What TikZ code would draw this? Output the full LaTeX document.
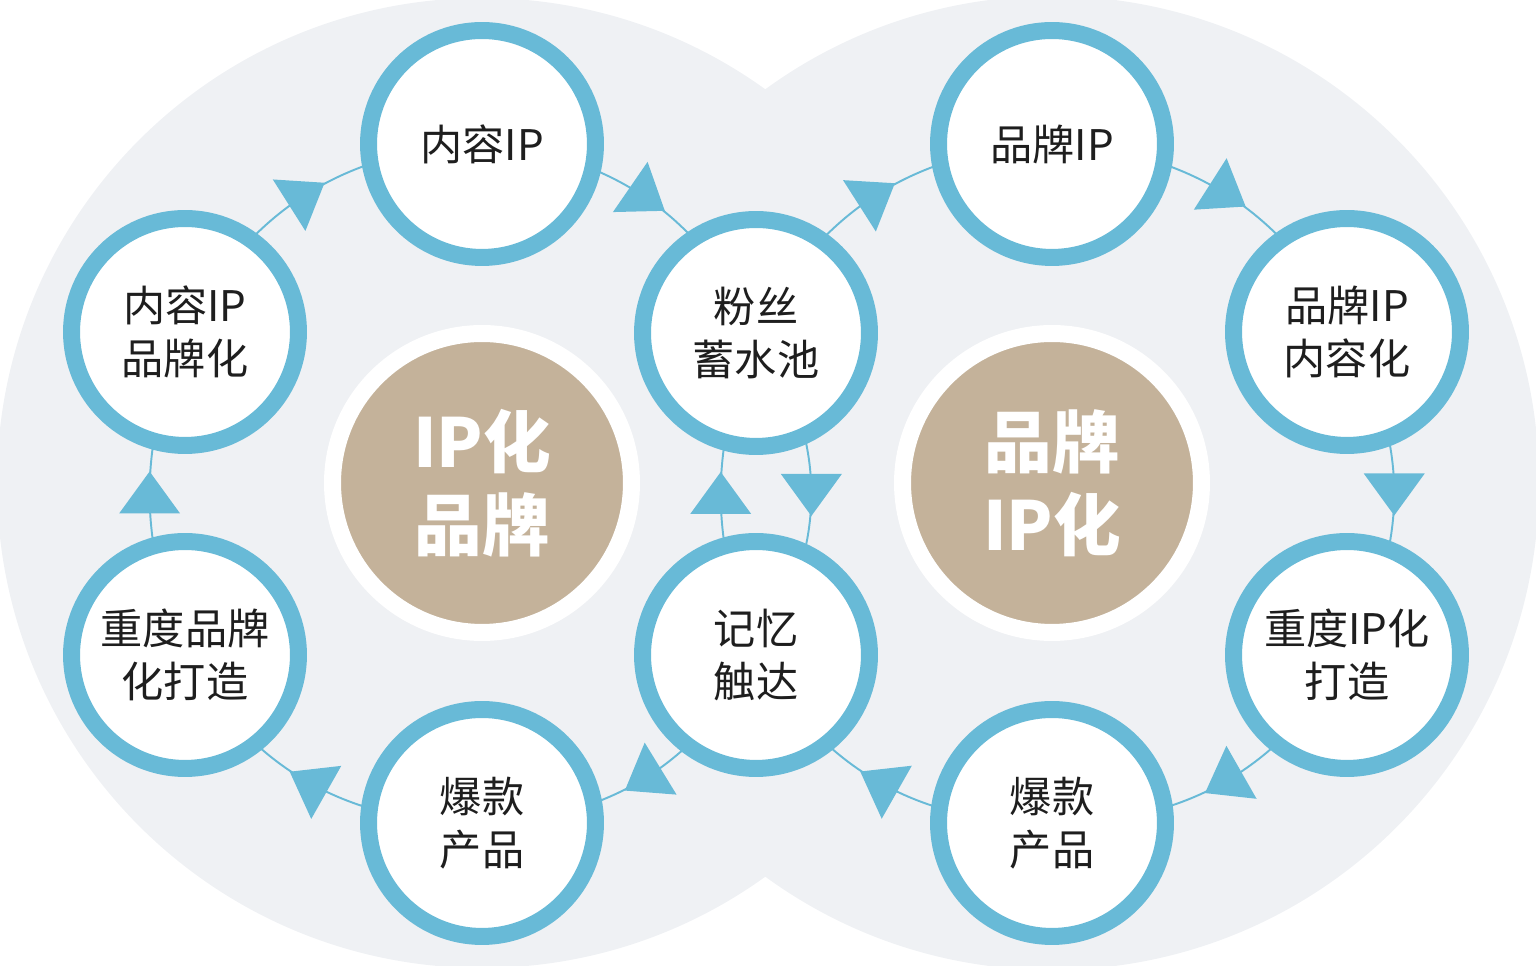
\documentclass[tikz,border=0pt]{standalone}
\usepackage{fontspec}
\newfontfamily\cjk{Noto Sans CJK SC}
\usetikzlibrary{arrows.meta,decorations.markings}
\definecolor{ringblue}{HTML}{68BAD7}
\definecolor{hubtan}{HTML}{C4B29A}
\definecolor{blobgray}{HTML}{EFF1F4}
\definecolor{inkgray}{HTML}{1E1E1E}
\pgfdeclarelayer{blob}
\pgfdeclarelayer{links}
\pgfsetlayers{blob,links,main}
\tikzset{
  stage/.style={circle,draw=ringblue,line width=0.34cm,fill=white,minimum size=4.54cm,inner sep=0pt,align=center,text=inkgray,font=\cjk\fontsize{24pt}{30pt}\selectfont},
  hub/.style={circle,draw=white,line width=0.34cm,fill=hubtan,minimum size=5.98cm,inner sep=0pt,align=center,text=white,font=\cjk\bfseries\fontsize{38.5pt}{47pt}\selectfont},
  flow/.style={ringblue,line width=1.1pt,bend left=30,postaction={decorate,decoration={markings,mark=at position 0.5 with {\fill[ringblue] (0.44cm,0) -- (-0.4cm,0.61cm) -- (-0.4cm,-0.61cm) -- cycle;}}}}
}

\begin{document}
\begin{tikzpicture}[x=0.02cm,y=0.02cm]
\useasboundingbox (0,0) rectangle (1536,966);
\begin{pgfonlayer}{blob}
\clip (0,0) rectangle (1536,966);
\fill[blobgray] (482,483) circle[radius=485] (1052,483) circle[radius=487];
\end{pgfonlayer}
\node[hub] (ipb) at (482,483) {IP化\\品牌};
\node[hub] (bip) at (1052,483) {品牌\\IP化};
\node[stage] (nip) at (482,822) {内容IP};
\node[stage] (fans) at (756,633) {粉丝\\蓄水池};
\node[stage] (mem) at (756,311) {记忆\\触达};
\node[stage] (hotl) at (482,143) {爆款\\产品};
\node[stage] (heavyb) at (185,311) {重度品牌\\化打造};
\node[stage] (nipb) at (185,634) {内容IP\\品牌化};
\node[stage] (brip) at (1052,822) {品牌IP};
\node[stage] (bripc) at (1347,634) {品牌IP\\内容化};
\node[stage] (heavyi) at (1347,311) {重度IP化\\打造};
\node[stage] (hotr) at (1052,143) {爆款\\产品};
\begin{pgfonlayer}{links}
\draw[flow] (nip.center) to (fans.center);
\draw[flow,bend left=36] (fans.center) to (mem.center);
\draw[flow] (mem.center) to (hotl.center);
\draw[flow] (hotl.center) to (heavyb.center);
\draw[flow,bend left=22] (heavyb.center) to (nipb.center);
\draw[flow] (nipb.center) to (nip.center);
\draw[flow] (fans.center) to (brip.center);
\draw[flow] (brip.center) to (bripc.center);
\draw[flow] (bripc.center) to (heavyi.center);
\draw[flow] (heavyi.center) to (hotr.center);
\draw[flow] (hotr.center) to (mem.center);
\draw[flow,bend left=22] (mem.center) to (fans.center);
\end{pgfonlayer}
\end{tikzpicture}
\end{document}
